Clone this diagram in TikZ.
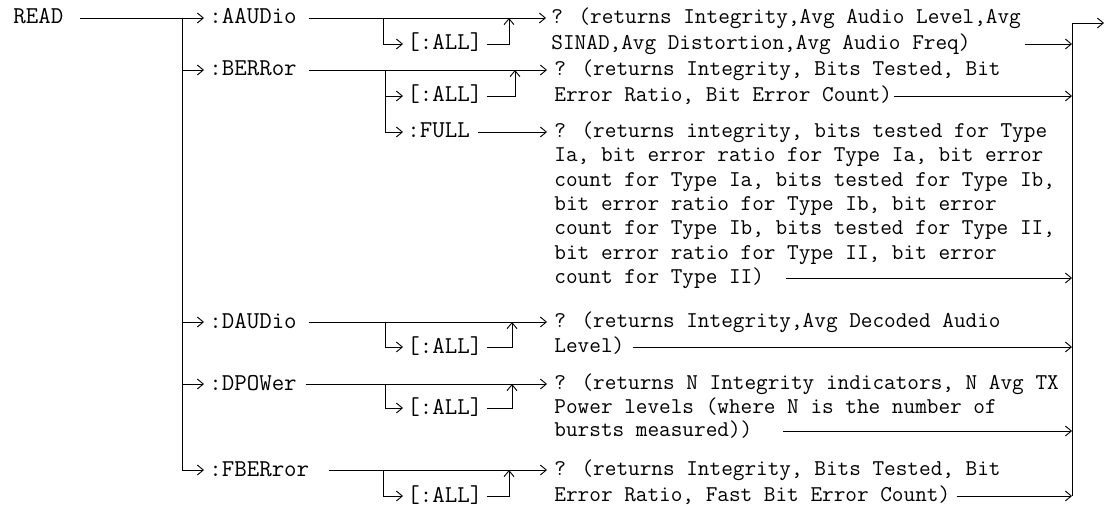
\documentclass[tikz,border=0pt]{standalone}
\usetikzlibrary{arrows.meta}

\begin{document}
\begin{tikzpicture}[
        x=1pt, y=-1pt,
        cmd/.style={anchor=west, inner sep=0pt, font=\ttfamily\fontsize{24.2}{26}\selectfont,
                    text height=17pt, text depth=5pt},
        ret/.style={anchor=west, inner sep=0pt, font=\ttfamily\fontsize{22.6}{24}\selectfont,
                    text height=16pt, text depth=5pt},
        conn/.style={->},
        >={Straight Barb[length=6pt, width=10pt]},
        line width=0.9pt
    ]
\useasboundingbox (0,0) rectangle (1106,508);

% Root keyword and left bus
\node[cmd] (read) at (13,18) {READ};
\coordinate (lbTop) at (182,18);
\coordinate (lbBot) at (182,470);

% Subsystem keywords
\node[cmd] (aaudio)  at (209,18)  {:AAUDio};
\node[cmd] (berror)  at (209,70)  {:BERRor};
\node[cmd] (daudio)  at (209,322) {:DAUDio};
\node[cmd] (dpower)  at (209,384) {:DPOWer};
\node[cmd] (fberror) at (209,470) {:FBERror};

% Optional suffixes
\node[cmd] (aaAll) at (407,44)  {[:ALL]};
\node[cmd] (beAll) at (407,96)  {[:ALL]};
\node[cmd] (full)  at (407,132) {:FULL};
\node[cmd] (daAll) at (407,347) {[:ALL]};
\node[cmd] (dpAll) at (407,408) {[:ALL]};
\node[cmd] (fbAll) at (407,496) {[:ALL]};

% Split and join points
\coordinate (aaSplit) at (383,18);
\coordinate (aaJoin)  at (509,18);
\coordinate (beSplit) at (385,70);
\coordinate (beJoin)  at (515,70);
\coordinate (daSplit) at (385,322);
\coordinate (daJoin)  at (512,322);
\coordinate (dpSplit) at (385,384);
\coordinate (dpJoin)  at (512,384);
\coordinate (fbSplit) at (383,470);
\coordinate (fbJoin)  at (509,470);

% Returned values
\node[ret] (aa1) at (551,18)  {? (returns Integrity,Avg Audio Level,Avg};
\node[ret] (aa2) at (551,44)  {SINAD,Avg Distortion,Avg Audio Freq)};
\node[ret] (be1) at (554,70)  {? (returns Integrity, Bits Tested, Bit};
\node[ret] (be2) at (554,96)  {Error Ratio, Bit Error Count)};
\node[ret] (fu1) at (554,132) {? (returns integrity, bits tested for Type};
\node[ret] (fu2) at (554,156) {Ia, bit error ratio for Type Ia, bit error};
\node[ret] (fu3) at (554,181) {count for Type Ia, bits tested for Type Ib,};
\node[ret] (fu4) at (554,205) {bit error ratio for Type Ib, bit error};
\node[ret] (fu5) at (554,229) {count for Type Ib, bits tested for Type II,};
\node[ret] (fu6) at (554,254) {bit error ratio for Type II, bit error};
\node[ret] (fu7) at (554,278) {count for Type II)};
\node[ret] (da1) at (554,322) {? (returns Integrity,Avg Decoded Audio};
\node[ret] (da2) at (554,347) {Level)};
\node[ret] (dp1) at (554,384) {? (returns N Integrity indicators, N Avg TX};
\node[ret] (dp2) at (554,408) {Power levels (where N is the number of};
\node[ret] (dp3) at (554,431) {bursts measured))};
\node[ret] (fb1) at (554,470) {? (returns Integrity, Bits Tested, Bit};
\node[ret] (fb2) at (554,496) {Error Ratio, Fast Bit Error Count)};

% Right bus
\coordinate (rbTop) at (1072,23);
\coordinate (rbBot) at (1072,496);
\coordinate (out)   at (1104,23);

% READ into the left bus
\draw[shorten <=16pt] (read.east) -- (lbTop);
\draw (lbTop) -- (lbBot);
\draw[conn, shorten >=5pt] (lbTop) -- (aaudio.west);
\draw[conn, shorten >=5pt] (berror.west -| lbTop) -- (berror.west);
\draw[conn, shorten >=5pt] (daudio.west -| lbTop) -- (daudio.west);
\draw[conn, shorten >=5pt] (dpower.west -| lbTop) -- (dpower.west);
\draw[conn, shorten >=5pt] (lbBot) -- (fberror.west);

% Keyword to query mark
\draw[conn, shorten <=12pt, shorten >=5pt] (aaudio.east) -- (aa1.west);
\draw[conn, shorten <=12pt, shorten >=7pt] (berror.east) -- (be1.west);
\draw[conn, shorten <=8pt, shorten >=7pt] (full.east) -- (fu1.west);
\draw[conn, shorten <=12pt, shorten >=7pt] (daudio.east) -- (da1.west);
\draw[conn, shorten <=9pt, shorten >=7pt] (dpower.east) -- (dp1.west);
\draw[conn, shorten <=19pt, shorten >=7pt] (fberror.east) -- (fb1.west);

% Optional [:ALL] detours
\draw[conn, shorten >=4pt] (aaSplit) |- (aaAll.west);
\draw[conn, shorten <=4pt] (aaAll.east) -| (aaJoin);
\draw[conn, shorten >=4pt] (beSplit) |- (beAll.west);
\draw[conn, shorten <=4pt] (beAll.east) -| (beJoin);
\draw[conn, shorten >=4pt] (beSplit) |- (full.west);
\draw[conn, shorten >=4pt] (daSplit) |- (daAll.west);
\draw[conn, shorten <=4pt] (daAll.east) -| (daJoin);
\draw[conn, shorten >=4pt] (dpSplit) |- (dpAll.west);
\draw[conn, shorten <=4pt] (dpAll.east) -| (dpJoin);
\draw[conn, shorten >=4pt] (fbSplit) |- (fbAll.west);
\draw[conn, shorten <=4pt] (fbAll.east) -| (fbJoin);

% Returns into the right bus
\draw[conn, shorten <=54pt] (aa2.east) -- (aa2.east -| rbTop);
\draw[conn, shorten <=2pt] (be2.east) -- (be2.east -| rbTop);
\draw[conn, shorten <=22pt] (fu7.east) -- (fu7.east -| rbTop);
\draw[conn, shorten <=8pt] (da2.east) -- (da2.east -| rbTop);
\draw[conn, shorten <=30pt] (dp3.east) -- (dp3.east -| rbTop);
\draw[conn, shorten <=6pt] (fb2.east) -- (rbBot);
\draw (rbBot) -- (rbTop);
\draw[conn] (rbTop) -- (out);
\end{tikzpicture}
\end{document}
